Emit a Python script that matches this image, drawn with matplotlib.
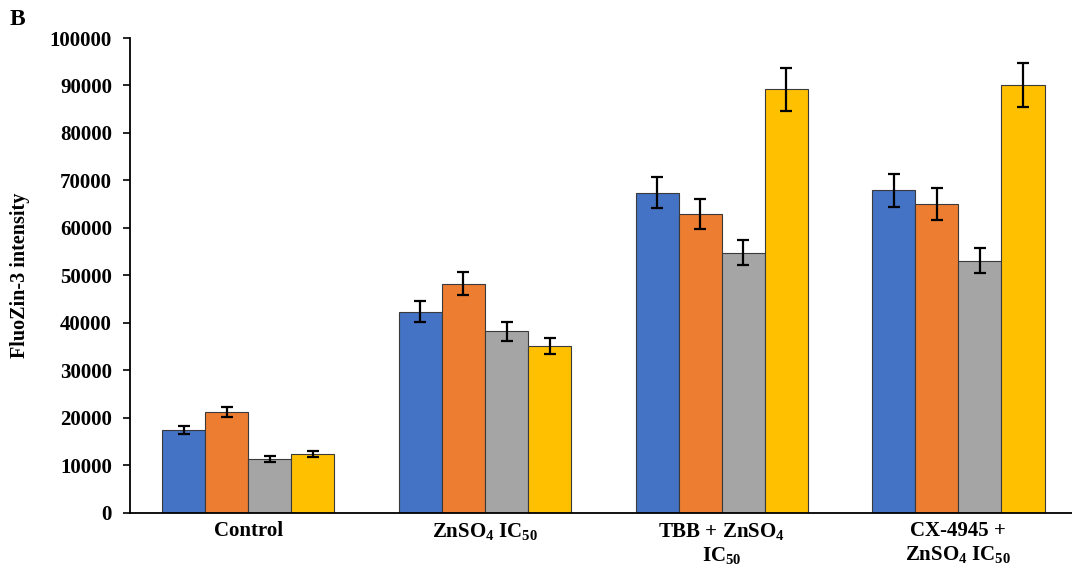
import matplotlib
matplotlib.use("Agg")
import matplotlib.pyplot as plt
import numpy as np

categories = ["Control", "ZnSO$_4$ IC$_{50}$", "TBB + ZnSO$_4$\nIC$_{50}$", "CX-4945 +\nZnSO$_4$ IC$_{50}$"]
series1 = [17400, 42300, 67400, 67900]
series2 = [21200, 48250, 63000, 65000]
series3 = [11300, 38200, 54800, 53100]
series4 = [12400, 35200, 89200, 90050]
err1 = [900, 2200, 3300, 3400]
err2 = [1100, 2400, 3150, 3350]
err3 = [600, 2000, 2700, 2600]
err4 = [600, 1700, 4500, 4600]
yticks = list(range(0, 100001, 10000))

plt.rcParams['font.family'] = ['Liberation Serif', 'DejaVu Serif']
plt.rcParams['font.weight'] = 'bold'
plt.rcParams['mathtext.fontset'] = 'custom'
plt.rcParams['mathtext.rm'] = 'Liberation Serif:bold'
plt.rcParams['mathtext.bf'] = 'Liberation Serif:bold'
plt.rcParams['mathtext.it'] = 'Liberation Serif:bold'
plt.rcParams['mathtext.default'] = 'rm'

fig = plt.figure(figsize=(10.72, 5.68), dpi=100)
ax = fig.add_axes([130/1072, 1-512.7/568, 1-130/1072, (512.7-38)/568])

colors = ["#4472C4", "#ED7D31", "#A5A5A5", "#FFC000"]
x = np.arange(len(categories))
w = 0.182
data = [series1, series2, series3, series4]
errs = [err1, err2, err3, err4]
for i, (vals, e, c) in enumerate(zip(data, errs, colors)):
    pos = x + (i - 1.5) * w
    ax.bar(pos, vals, width=w, color=c, edgecolor="#3a3a3a", linewidth=0.8, zorder=2)
    ax.errorbar(pos, vals, yerr=e, fmt='none', ecolor='black', elinewidth=1.6,
                capsize=4, capthick=1.6, zorder=3)

ax.set_xlim(-0.5, 3.48)
ax.set_ylim(0, 100000)
ax.set_yticks(yticks)
ax.set_yticklabels([str(v) for v in yticks], fontsize=15, fontweight='bold')
ax.set_xticks(x)
ax.set_xticklabels(categories, fontsize=15, fontweight='bold', linespacing=1.2)
ax.tick_params(axis='x', length=0, pad=6)
ax.tick_params(axis='y', direction='out', length=5, width=1.2, pad=8)
for s in ['top', 'right']:
    ax.spines[s].set_visible(False)
ax.spines['left'].set_linewidth(1.3)
ax.spines['bottom'].set_linewidth(1.3)
ax.set_ylabel("FluoZin-3 intensity", fontsize=14.5, fontweight='bold', labelpad=14)
fig.text(0.009, 0.985, "B", fontsize=17, fontweight='bold', va='top', ha='left')

fig.savefig("out.png", dpi=100)
